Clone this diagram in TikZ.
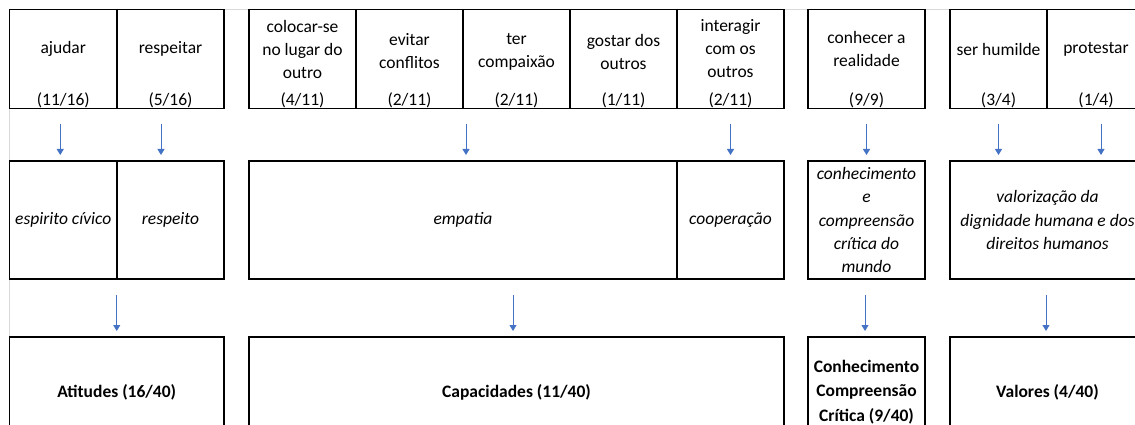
\documentclass[tikz,border=0pt]{standalone}
\usepackage{fontspec}
\setmainfont{Carlito}
\usetikzlibrary{arrows.meta}
\definecolor{azulseta}{RGB}{68,114,196}
\definecolor{grelha}{RGB}{217,217,217}

\begin{document}
\begin{tikzpicture}[x=1pt,y=-1pt,
        celula/.style={draw,line width=1.5pt,inner sep=0pt,outer sep=0pt,anchor=north west,minimum height=99pt},
        caixa/.style={celula,minimum height=118pt,align=center,font=\fontsize{17.5}{23.3}\selectfont\itshape},
        total/.style={celula,minimum height=110pt,align=center,font=\fontsize{17.5}{24.5}\selectfont\bfseries},
        texto/.style={inner sep=0pt,align=center,font=\fontsize{17.5}{23}\selectfont},
        seta/.style={azulseta,line width=1pt,-{Triangle[width=7pt,length=6pt]}}]
    \useasboundingbox (0,0) rectangle (1135,425);
    \clip (0,0) rectangle (1135,425);
    % grelha da folha
    \draw[grelha,line width=0.8pt] (9.5,425)--(9.5,9.5)--(1135,9.5);

    % linha 1: respostas
    \node[celula,minimum width=107.5pt] (ajudar) at (9.5,9.5) {};
    \node[texto] (ajudar-t) at ([yshift=-39.5pt]ajudar.north) {ajudar};
    \node[texto] (ajudar-f) at ([yshift=8.5pt]ajudar.south) {(11/16)};
    \node[celula,minimum width=107pt] (respeitar) at (117,9.5) {};
    \node[texto] (respeitar-t) at ([yshift=-39.5pt]respeitar.north) {respeitar};
    \node[texto] (respeitar-f) at ([yshift=8.5pt]respeitar.south) {(5/16)};

    \node[celula,minimum width=107pt] (colocar) at (249,9.5) {};
    \node[texto] (colocar-t) at ([yshift=-39.5pt]colocar.north) {colocar-se\\no lugar do\\outro};
    \node[texto] (colocar-f) at ([yshift=8.5pt]colocar.south) {(4/11)};
    \node[celula,minimum width=107pt] (evitar) at (356,9.5) {};
    \node[texto] (evitar-t) at ([yshift=-42pt]evitar.north) {evitar\\conflitos};
    \node[texto] (evitar-f) at ([yshift=8.5pt]evitar.south) {(2/11)};
    \node[celula,minimum width=107pt] (ter) at (463,9.5) {};
    \node[texto] (ter-t) at ([yshift=-42pt]ter.north) {ter\\compaixão};
    \node[texto] (ter-f) at ([yshift=8.5pt]ter.south) {(2/11)};
    \node[celula,minimum width=107pt] (gostar) at (570,9.5) {};
    \node[texto] (gostar-t) at ([yshift=-42pt]gostar.north) {gostar dos\\outros};
    \node[texto] (gostar-f) at ([yshift=8.5pt]gostar.south) {(1/11)};
    \node[celula,minimum width=107pt] (interagir) at (677,9.5) {};
    \node[texto] (interagir-t) at ([yshift=-39.5pt]interagir.north) {interagir\\com os\\outros};
    \node[texto] (interagir-f) at ([yshift=8.5pt]interagir.south) {(2/11)};

    \node[celula,minimum width=117pt] (conhecer) at (808,9.5) {};
    \node[texto] (conhecer-t) at ([yshift=-39.5pt]conhecer.north) {conhecer a\\realidade};
    \node[texto] (conhecer-f) at ([yshift=8.5pt]conhecer.south) {(9/9)};

    \node[celula,minimum width=97pt] (humilde) at (950,9.5) {};
    \node[texto] (humilde-t) at ([yshift=-39.5pt]humilde.north) {ser humilde};
    \node[texto] (humilde-f) at ([yshift=8.5pt]humilde.south) {(3/4)};
    \node[celula,minimum width=98pt] (protestar) at (1047,9.5) {};
    \node[texto] (protestar-t) at ([yshift=-39.5pt]protestar.north) {protestar};
    \node[texto] (protestar-f) at ([yshift=8.5pt]protestar.south) {(1/4)};

    % linha 2: categorias
    \node[caixa,minimum width=107.5pt] (espirito) at (9.5,161) {espirito cívico};
    \node[caixa,minimum width=107pt] (respeito) at (117,161) {respeito};
    \node[caixa,minimum width=428pt] (empatia) at (249,161) {empatia};
    \node[caixa,minimum width=107pt] (cooperacao) at (677,161) {cooperação};
    \node[caixa,minimum width=117pt] (conhecimento) at (808,161) {conhecimento\\e\\compreensão\\crítica do\\mundo};
    \node[caixa,minimum width=195pt] (valorizacao) at (950,161) {valorização da\\dignidade humana e dos\\direitos humanos};

    % linha 3: dimensoes
    \node[total,minimum width=214.5pt] (atitudes) at (9.5,337) {Atitudes (16/40)};
    \node[total,minimum width=535pt] (capacidades) at (249,337) {Capacidades (11/40)};
    \node[total,minimum width=117pt] (critica) at (808,337) {Conhecimento\\Compreensão\\Crítica (9/40)};
    \node[total,minimum width=195pt] (valores) at (950,337) {Valores (4/40)};

    % setas
    \draw[seta] ([xshift=-3pt,yshift=-15.5pt]ajudar.south) -- ([xshift=-3pt,yshift=6pt]ajudar.south |- espirito.north);
    \draw[seta] ([xshift=-9.5pt,yshift=-15.5pt]respeitar.south) -- ([xshift=-9.5pt,yshift=6pt]respeitar.south |- respeito.north);
    \draw[seta] ([xshift=3pt,yshift=-15.5pt]empatia.north |- ter.south) -- ([xshift=3pt,yshift=6pt]empatia.north);
    \draw[seta] ([yshift=-15.5pt]interagir.south) -- ([yshift=6pt]cooperacao.north);
    \draw[seta] ([yshift=-15.5pt]conhecer.south) -- ([yshift=6pt]conhecimento.north);
    \draw[seta] ([yshift=-15.5pt]humilde.south) -- ([yshift=6pt]humilde.south |- valorizacao.north);
    \draw[seta] ([xshift=5pt,yshift=-15.5pt]protestar.south) -- ([xshift=5pt,yshift=6pt]protestar.south |- valorizacao.north);

    \draw[seta] ([yshift=-16pt]atitudes.north |- espirito.south) -- ([yshift=6pt]atitudes.north);
    \draw[seta] ([xshift=-3.5pt,yshift=-16pt]capacidades.north |- empatia.south) -- ([xshift=-3.5pt,yshift=6pt]capacidades.north);
    \draw[seta] ([xshift=-1.5pt,yshift=-16pt]conhecimento.south) -- ([xshift=-1.5pt,yshift=6pt]critica.north);
    \draw[seta] ([xshift=-1.5pt,yshift=-16pt]valorizacao.south) -- ([xshift=-1.5pt,yshift=6pt]valores.north);
\end{tikzpicture}
\end{document}
